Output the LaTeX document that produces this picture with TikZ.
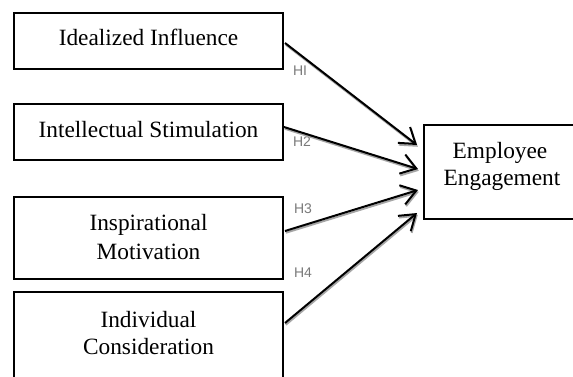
\documentclass[tikz,border=0pt]{standalone}
\usepackage{fontspec}
\setmainfont{Liberation Serif}
\newfontfamily\lsans{Liberation Sans}
\usetikzlibrary{arrows.meta}
\tikzset{
  box/.style={draw=black, line width=1.6pt, rectangle, inner sep=0pt},
  boxtext/.style={anchor=base, inner sep=0pt, font=\fontsize{17.5}{21.5}\selectfont},
  hlab/.style={inner sep=0pt, text=black!52, font=\lsans\fontsize{10.5}{12}\selectfont},
  hyparrow/.style={draw=black, line width=1.5pt,
    -{Straight Barb[length=11pt, width=15pt, line width=1.5pt]}},
  shadowarrow/.style={draw=black!35, line width=1.4pt,
    -{Straight Barb[length=11pt, width=15pt, line width=1.4pt]}}
}
\begin{document}
\begin{tikzpicture}[x=0.75pt, y=-0.75pt]
\clip (0,0) rectangle (573,376);
\fill[white] (0,0) rectangle (573,376);
% boxes
\node[box, minimum width=269*0.75pt, minimum height=56*0.75pt] (b1) at (148.5,41) {};
\node[box, minimum width=269*0.75pt, minimum height=56*0.75pt] (b2) at (148.5,132) {};
\node[box, minimum width=269*0.75pt, minimum height=82*0.75pt] (b3) at (148.5,238) {};
\node[box, minimum width=269*0.75pt, minimum height=110*0.75pt] (b4) at (148.5,347) {};
\node[box, minimum width=160*0.75pt, minimum height=94*0.75pt] (b5) at (504,172) {};
% texts
\node[boxtext] (t1) at (148.5,45) {Idealized Influence};
\node[boxtext] (t2) at (148.5,137) {Intellectual Stimulation};
\node[boxtext] (t3a) at (148.5,230) {Inspirational};
\node[boxtext] (t3b) at (148.5,259) {Motivation};
\node[boxtext] (t4a) at (148.5,327) {Individual};
\node[boxtext] (t4b) at (148.5,354) {Consideration};
\node[boxtext] (t5a) at (500,158) {Employee};
\node[boxtext] (t5b) at (502,185) {Engagement};
% arrow end points
\coordinate (s1) at (285,43);
\coordinate (s2) at (284,127);
\coordinate (s3) at (285,231);
\coordinate (s4) at (285,323);
\coordinate (e1) at (417,145);
\coordinate (e2) at (418,169);
\coordinate (e3) at (418,190);
\coordinate (e4) at (417,213);
% labels
\node[hlab] (h1) at (300,71) {HI};
\node[hlab] (h2) at (302,142) {H2};
\node[hlab] (h3) at (303,209) {H3};
\node[hlab] (h4) at (303,273) {H4};
% arrow shadows
\foreach \i in {1,2,3,4}{
  \draw[shadowarrow] ([shift={(0.8,1.8)}]s\i) -- ([shift={(0.8,1.8)}]e\i);
}
% arrows
\draw[hyparrow] (s1) -- (e1);
\draw[hyparrow] (s2) -- (e2);
\draw[hyparrow] (s3) -- (e3);
\draw[hyparrow] (s4) -- (e4);
\end{tikzpicture}
\end{document}
